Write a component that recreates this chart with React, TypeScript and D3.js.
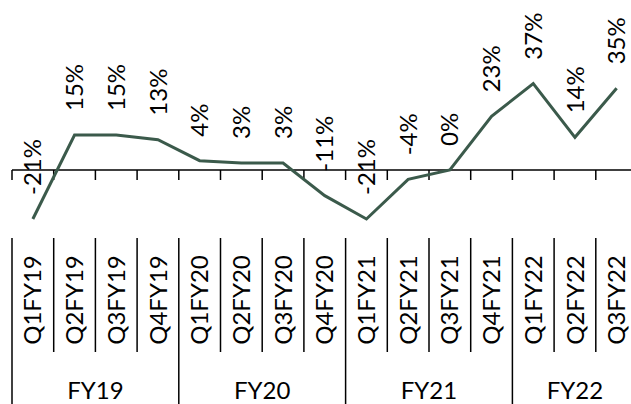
import React from "react";
import * as d3 from "d3";

// quarterly growth
const quarters = [
  "Q1FY19", "Q2FY19", "Q3FY19", "Q4FY19",
  "Q1FY20", "Q2FY20", "Q3FY20", "Q4FY20",
  "Q1FY21", "Q2FY21", "Q3FY21", "Q4FY21",
  "Q1FY22", "Q2FY22", "Q3FY22",
];
const growth = [-21, 15, 15, 13, 4, 3, 3, -11, -21, -4, 0, 23, 37, 14, 35];
const years = ["FY19", "FY20", "FY21", "FY22"];

const width = 631;
const height = 404;
const lineColor = "#3b5a4b";
const font = "Lato, 'Open Sans', sans-serif";
const fontSize = 24;
const capHalf = fontSize * 0.358;

export default function App() {
  const x = d3
    .scaleBand<string>()
    .domain(quarters)
    .range([12, 12 + 15 * 41.7])
    .padding(0);

  const y = d3.scaleLinear().domain([-25, 45]).range([228.33, 65]);

  const pts = quarters.map((q, i) => ({ q, v: growth[i] }));

  const line = d3
    .line<{ q: string; v: number }>()
    .x((d) => (x(d.q) as number) + x.bandwidth() / 2)
    .y((d) => y(d.v));

  const axisY = y(0);
  const bw = x.bandwidth();

  // year spans from quarter names
  const yearSpans = years.map((yr) => {
    const qs = quarters.filter((q) => q.endsWith(yr));
    const x0 = x(qs[0]) as number;
    const x1 = (x(qs[qs.length - 1]) as number) + bw;
    return { yr, x0, x1 };
  });

  return (
    <svg
      width={width}
      height={height}
      style={{ position: "absolute", left: 0, top: 0, background: "#fff" }}
      fontFamily={font}
    >
      {/* zero axis */}
      <line x1={x.range()[0]} x2={width} y1={axisY} y2={axisY} stroke="#000" strokeWidth={1.5} />
      {quarters.map((q) => (
        <line
          key={"t" + q}
          x1={x(q) as number}
          x2={x(q) as number}
          y1={axisY}
          y2={axisY + 10}
          stroke="#000"
          strokeWidth={1.5}
        />
      ))}

      <path d={line(pts) || ""} fill="none" stroke={lineColor} strokeWidth={3} strokeLinejoin="miter" />

      {/* data labels */}
      {pts.map((d) => {
        const cx = (x(d.q) as number) + bw / 2 + capHalf;
        const cy = y(d.v) - 24;
        return (
          <text
            key={"l" + d.q}
            transform={`translate(${cx},${cy}) rotate(-90)`}
            fontSize={fontSize}
            fill="#000"
          >
            {d.v + "%"}
          </text>
        );
      })}

      {/* category axis: quarter separators */}
      {quarters.map((q) => {
        const xx = x(q) as number;
        const isYearEdge = yearSpans.some((s) => Math.abs(s.x0 - xx) < 0.5);
        return (
          <line
            key={"s" + q}
            x1={xx}
            x2={xx}
            y1={238}
            y2={isYearEdge ? height : 352}
            stroke="#000"
            strokeWidth={1.5}
          />
        );
      })}
      {quarters.map((q) => (
        <text
          key={"q" + q}
          transform={`translate(${(x(q) as number) + bw / 2 + capHalf},${300}) rotate(-90)`}
          textAnchor="middle"
          fontSize={fontSize}
          fill="#000"
        >
          {q}
        </text>
      ))}
      {yearSpans.map((s) => (
        <text
          key={s.yr}
          x={(s.x0 + s.x1) / 2}
          y={399}
          textAnchor="middle"
          fontSize={fontSize}
          fill="#000"
        >
          {s.yr}
        </text>
      ))}
    </svg>
  );
}
